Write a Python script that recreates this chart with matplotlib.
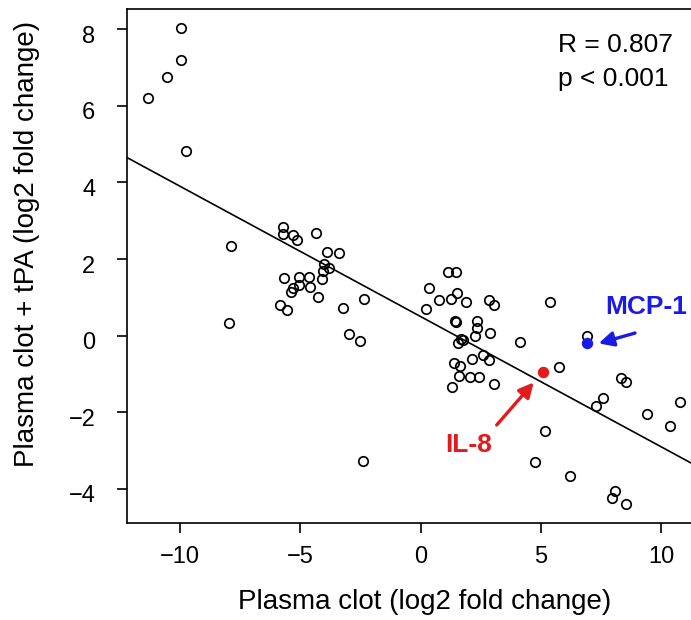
"""Plasma clot vs plasma clot + tPA fold changes, with the regression line."""

import matplotlib
matplotlib.use("Agg")
import matplotlib.pyplot as plt
from matplotlib.transforms import ScaledTranslation

plt.rcParams["font.family"] = ["Liberation Sans", "DejaVu Sans"]

# open circles: (plasma clot, plasma clot + tPA), log2 fold change
clot = [
    -9.97, -9.97, -10.54, -11.33, -9.77,
    -5.71, -5.71, -5.31, -5.14, -4.37, -7.89, -3.90, -3.38, -4.03, -3.83,
    -4.05, -5.70, -5.07, -4.64, -4.10, -5.06, -5.31, -5.39, -4.62, -4.27,
    -2.36, -5.84, -5.56, -3.24, -7.97, -2.98, -2.52,
    1.12, 1.48, 0.36, 0.76, 1.26, 1.50, 1.87, 0.21, 2.84, 3.04, 5.38,
    1.44, 1.47, 2.33, 2.34, 2.25, 2.88, 1.69, 1.77, 1.55, 4.14, 6.90,
    2.13, 2.60, 2.83, 1.38, 1.62, 1.58, 2.06, 2.42, 3.04, 1.29, 5.76,
    8.34, 8.52, 7.57, 7.29, 9.40, 10.78,
    -2.41, 5.16, 4.77, 6.21, 8.08, 7.97, 8.54, 10.37,
]
clot_tpa = [
    8.03, 7.20, 6.75, 6.20, 4.83,
    2.83, 2.66, 2.63, 2.49, 2.68, 2.34, 2.18, 2.15, 1.87, 1.77,
    1.70, 1.51, 1.52, 1.54, 1.48, 1.33, 1.24, 1.14, 1.27, 1.02,
    0.95, 0.80, 0.67, 0.73, 0.34, 0.05, -0.14,
    1.66, 1.66, 1.25, 0.94, 0.95, 1.11, 0.88, 0.71, 0.93, 0.79, 0.87,
    0.39, 0.35, 0.39, 0.20, 0.00, 0.06, -0.08, -0.11, -0.20, -0.16, -0.02,
    -0.60, -0.50, -0.63, -0.72, -0.79, -1.06, -1.07, -1.09, -1.27, -1.35, -0.82,
    -1.11, -1.20, -1.62, -1.83, -2.05, -1.72,
    -3.27, -2.49, -3.30, -3.66, -4.04, -4.23, -4.40, -2.35,
]

# highlighted genes
il8 = (5.07, -0.95)
mcp1 = (6.90, -0.20)

# regression line
fit_intercept = 0.50
fit_slope = -0.34

x_ticks = [-10, -5, 0, 5, 10]
y_ticks = [-4, -2, 0, 2, 4, 6, 8]
x_limits = (-12.22, 11.82)
y_limits = (-4.88, 8.52)

red = "#e41a1c"
blue = "#1a1ae6"

W, H = 691, 620
fig = plt.figure(figsize=(W / 100, H / 100), dpi=100)
ax = fig.add_axes([126.7 / W, 1 - 522.7 / H, (705 - 126.7) / W, (522.7 - 9.3) / H])

ax.plot(clot, clot_tpa, "o", ms=6.8, mfc="none", mec="black", mew=1.25)
ax.plot(*il8, "o", ms=7.2, color=red, mec=red)
ax.plot(*mcp1, "o", ms=7.2, color=blue, mec=blue)

ax.plot(x_limits, [fit_intercept + fit_slope * x for x in x_limits],
        color="black", lw=1.2)

ax.set_xlim(*x_limits)
ax.set_ylim(*y_limits)
ax.set_xticks(x_ticks)
ax.set_yticks(y_ticks)
ax.tick_params(direction="out", length=7.5, width=1.2, labelsize=17)
ax.tick_params(axis="x", pad=9)
ax.tick_params(axis="y", pad=15)
offset = ScaledTranslation(0, -5 / 100, fig.dpi_scale_trans)
for label in ax.get_yticklabels():
    label.set_transform(label.get_transform() + offset)
for spine in ax.spines.values():
    spine.set_linewidth(1.2)

ax.text(5.71, 7.59, "R = 0.807", fontsize=19, ha="left", va="center")
ax.text(5.71, 6.70, "p < 0.001", fontsize=19, ha="left", va="center")

ax.text(9.37, 0.74, "MCP-1", color=blue, fontsize=19, fontweight="bold",
        ha="center", va="center")
ax.annotate("", xy=(7.40, -0.20), xytext=(8.91, 0.07),
            arrowprops=dict(arrowstyle="-|>", color=blue, lw=2.4,
                            mutation_scale=22, shrinkA=0, shrinkB=0))
ax.text(2.01, -2.85, "IL-8", color=red, fontsize=19, fontweight="bold",
        ha="center", va="center")
ax.annotate("", xy=(4.70, -1.22), xytext=(3.16, -2.33),
            arrowprops=dict(arrowstyle="-|>", color=red, lw=2.4,
                            mutation_scale=22, shrinkA=0, shrinkB=0))

fig.text(424.5 / W, 1 - 602 / H, "Plasma clot (log2 fold change)",
         fontsize=20, ha="center", va="center")
fig.text(27 / W, 1 - 244 / H, "Plasma clot + tPA (log2 fold change)",
         fontsize=20, rotation=90, ha="center", va="center")

fig.savefig("out.png", dpi=100)
